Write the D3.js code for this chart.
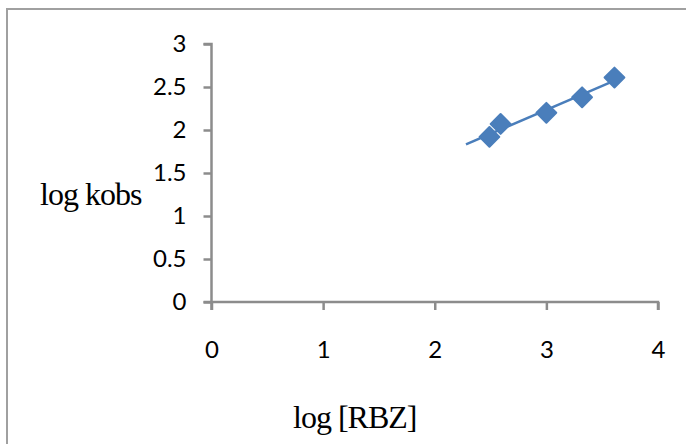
<!DOCTYPE html>
<html>
<head>
<meta charset="utf-8">
<script src="https://cdn.jsdelivr.net/npm/d3@7"></script>
<style>
  body { margin: 0; background: #fff; }
</style>
</head>
<body>
<svg></svg>
<script>
const logRBZ  = [2.49, 2.59, 3.0, 3.32, 3.61];
const logKobs = [1.92, 2.07, 2.20, 2.38, 2.61];
const xTicks = [0, 1, 2, 3, 4];
const yTicks = [0, 0.5, 1, 1.5, 2, 2.5, 3];
const trendStart = 2.28;

const width = 686;
const height = 444;

const svg = d3.select('svg')
    .attr('width', width)
    .attr('height', height);

// outer frame (only top and left edges show in the picture)
svg.append('path')
   .attr('d', 'M7,' + height + ' V9 H' + width)
   .attr('fill', 'none')
   .attr('stroke', '#a0a0a0')
   .attr('stroke-width', 2);

const xScale = d3.scaleLinear().domain([0, 4]).range([211.5, 658]);
const yScale = d3.scaleLinear().domain([0, 3]).range([302, 44]);

const xAxis = d3.axisBottom(xScale)
    .tickValues(xTicks)
    .tickFormat(d3.format('d'))
    .tickSize(8)
    .tickPadding(31);

const yAxis = d3.axisLeft(yScale)
    .tickValues(yTicks)
    .tickFormat(d => String(d))
    .tickSize(8)
    .tickPadding(17);

const styleAxis = g => {
    g.selectAll('path, line')
     .attr('stroke', '#8c8c8c')
     .attr('stroke-width', 2.5);
    g.selectAll('text')
     .attr('fill', '#000')
     .style('font-family', 'Lato, "Open Sans", sans-serif')
     .style('font-size', '24px');
};

const gx = svg.append('g')
    .attr('transform', 'translate(0,' + yScale(0) + ')')
    .call(xAxis)
    .call(styleAxis);
gx.select('.domain').attr('d', 'M' + xScale(0) + ',8 V0 H' + xScale(4) + ' V8');

const gy = svg.append('g')
    .attr('transform', 'translate(' + xScale(0) + ',0)')
    .call(yAxis)
    .call(styleAxis);
gy.select('.domain').attr('d', 'M-8,' + yScale(3) + ' H0 V' + yScale(0) + ' H-8');

// linear trendline
const mx = d3.mean(logRBZ), my = d3.mean(logKobs);
const slope = d3.sum(logRBZ, (x, i) => (x - mx) * (logKobs[i] - my)) /
              d3.sum(logRBZ, x => (x - mx) * (x - mx));
const icpt = my - slope * mx;
const trendEnd = d3.max(logRBZ);

svg.append('line')
   .attr('x1', xScale(trendStart))
   .attr('y1', yScale(icpt + slope * trendStart))
   .attr('x2', xScale(trendEnd))
   .attr('y2', yScale(icpt + slope * trendEnd))
   .attr('stroke', '#4a7ebb')
   .attr('stroke-width', 2.5);

const points = logRBZ.map((x, i) => [x, logKobs[i]]);

svg.selectAll('.pt')
   .data(points)
   .enter()
   .append('path')
   .attr('class', 'pt')
   .attr('d', d3.symbol().type(d3.symbolDiamond2).size(250))
   .attr('transform', d => 'translate(' + xScale(d[0]) + ',' + yScale(d[1]) + ')')
   .attr('fill', '#4a7ebb')
   .attr('stroke', '#4a7ebb')
   .attr('stroke-width', 2)
   .attr('stroke-linejoin', 'round');

svg.append('text')
   .attr('x', 40)
   .attr('y', 205)
   .style('font-family', '"Liberation Serif", "Times New Roman", serif')
   .style('font-size', '32px')
   .style('letter-spacing', '-1px')
   .text('log kobs');

svg.append('text')
   .attr('x', 293)
   .attr('y', 428)
   .style('font-family', '"Liberation Serif", "Times New Roman", serif')
   .style('font-size', '32px')
   .style('letter-spacing', '-1px')
   .text('log [RBZ]');
</script>
</body>
</html>
